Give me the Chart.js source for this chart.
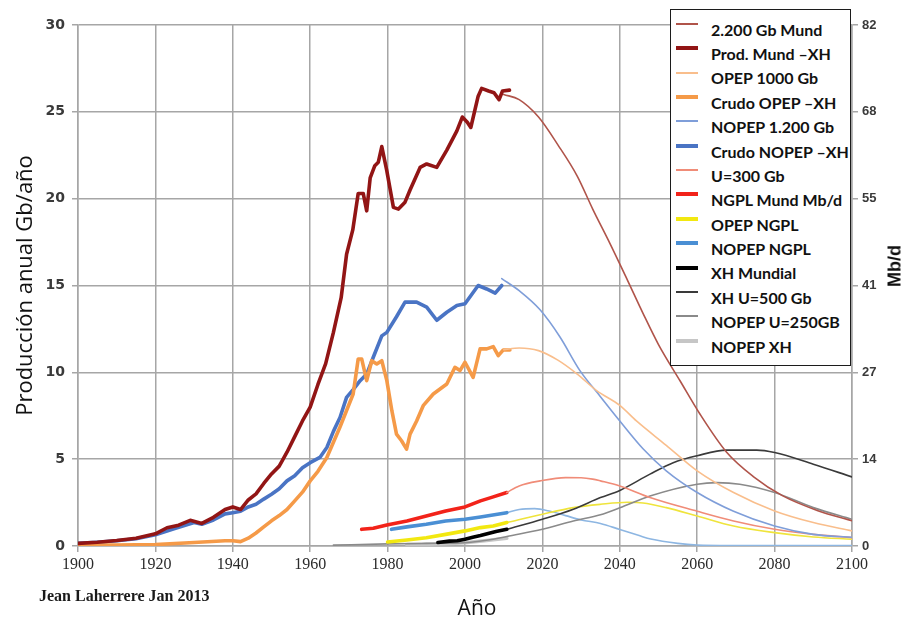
<!DOCTYPE html>
<html lang="es">
<head>
<meta charset="utf-8">
<title>Producción anual Gb/año</title>
<script src="https://cdn.jsdelivr.net/npm/chart.js@4.4.1/dist/chart.umd.min.js"></script>
<style>
    html, body { margin: 0; padding: 0; background: #fff; }
    #wrap { position: relative; width: 906px; height: 622px; overflow: hidden; }
    #c { position: absolute; left: 0; top: 0; }
    #legend {
        position: absolute; left: 670px; top: 9px; width: 179px; height: 355px;
        border: 1.5px solid #1c1c1c; background: #fff;
    }
    .row { position: absolute; left: 0; width: 100%; height: 24.4px; }
    .sw { position: absolute; left: 5px; width: 22px; }
    .tx {
        position: absolute; left: 40px; top: 0; line-height: 24.4px;
        font: bold 16px Lato, "Open Sans", sans-serif; color: #111; white-space: nowrap;
    }
    #xtitle {
        position: absolute; left: 477px; top: 607px; transform: translate(-50%, -50%);
        font: 21px "Open Sans", sans-serif; color: #111;
    }
    #credit {
        position: absolute; left: 39px; top: 596px; transform: translateY(-50%);
        font: bold 16px "Liberation Serif", serif; color: #1a1a1a;
    }
    #mbd {
        position: absolute; left: 895px; top: 266px; transform: translate(-50%, -50%) rotate(-90deg);
        font: bold 18px "Liberation Sans", sans-serif; color: #111;
    }
</style>
</head>
<body>
<div id="wrap">
    <canvas id="c" width="906" height="622"></canvas>
    <div id="legend"></div>
    <div id="xtitle">Año</div>
    <div id="credit">Jean Laherrere Jan 2013</div>
    <div id="mbd">Mb/d</div>
</div>
<script>
// ==========================================
// DATA (Gb/año)
// ==========================================

const yearLabels = ['1900', '1920', '1940', '1960', '1980', '2000', '2020', '2040', '2060', '2080', '2100'];
const gbLabels = ['0', '5', '10', '15', '20', '25', '30'];
const mbdLabels = ['0', '14', '27', '41', '55', '68', '82'];

// 2.200 Gb Mund
const mund2200Years = [2010, 2014, 2019, 2024, 2029, 2033, 2037.5, 2042, 2046, 2050, 2055.6, 2060.7, 2067.6, 2074.5, 2082, 2091, 2100];
const mund2200Vals = [26.0, 25.7, 24.7, 23.1, 21.3, 19.4, 17.4, 15.3, 13.4, 11.6, 9.5, 7.6, 5.4, 4.0, 2.9, 2.05, 1.45];

// Prod. Mund –XH
const prodMundYears = [1900, 1905, 1910, 1915, 1920, 1923, 1926, 1929, 1932, 1935, 1938, 1940, 1942, 1944, 1946, 1948, 1950, 1952, 1954, 1956, 1958, 1960, 1962, 1964, 1966, 1968, 1969.4, 1971, 1972.4, 1973.7, 1974.6, 1975.5, 1976.7, 1977.6, 1978.5, 1979.8, 1981.5, 1982.8, 1984.5, 1985.8, 1988.4, 1990.1, 1992.7, 1995.3, 1997.9, 1999.3, 2000.6, 2001.5, 2003.4, 2004.3, 2006.1, 2007.5, 2008.8, 2009.7, 2011.5];
const prodMundVals = [0.15, 0.22, 0.32, 0.45, 0.7, 1.05, 1.2, 1.48, 1.3, 1.65, 2.1, 2.25, 2.1, 2.65, 3.0, 3.6, 4.15, 4.6, 5.4, 6.3, 7.2, 8.0, 9.3, 10.5, 12.3, 14.3, 16.8, 18.2, 20.3, 20.3, 19.3, 21.2, 21.9, 22.1, 23.0, 21.6, 19.5, 19.4, 19.8, 20.5, 21.8, 22.0, 21.8, 22.8, 23.9, 24.7, 24.4, 24.1, 25.9, 26.35, 26.2, 26.1, 25.7, 26.2, 26.25];

// OPEP 1000 Gb
const opep1000Years = [2010, 2014, 2019, 2024, 2029, 2034, 2040, 2044.3, 2052, 2060, 2069.4, 2080, 2090, 2100];
const opep1000Vals = [11.3, 11.4, 11.25, 10.7, 9.9, 8.95, 8.1, 7.2, 5.8, 4.33, 3.08, 2.02, 1.35, 0.87];

// Crudo OPEP –XH
const crudoOpepYears = [1900, 1910, 1920, 1930, 1938, 1940, 1942, 1944, 1946, 1948, 1950, 1952, 1954, 1956, 1958, 1960, 1962, 1964.3, 1967.7, 1971.1, 1972.4, 1973.3, 1974.6, 1975.9, 1977.2, 1978.5, 1979.8, 1981.1, 1982.3, 1983.6, 1984.9, 1985.8, 1987.5, 1989.2, 1991.8, 1995.3, 1997.4, 1998.7, 2000, 2002.1, 2003.9, 2005.6, 2007.3, 2008.6, 2009.9, 2011.6];
const crudoOpepVals = [0.05, 0.05, 0.08, 0.2, 0.3, 0.3, 0.25, 0.45, 0.75, 1.1, 1.45, 1.75, 2.1, 2.6, 3.1, 3.75, 4.3, 5.1, 6.85, 8.75, 10.77, 10.77, 9.52, 10.67, 10.48, 10.67, 9.52, 7.79, 6.44, 6.06, 5.58, 6.44, 7.2, 8.08, 8.75, 9.33, 10.29, 10.1, 10.58, 9.71, 11.35, 11.35, 11.48, 10.96, 11.29, 11.29];

// NOPEP 1.200 Gb
const nopep1200Years = [2009.5, 2014, 2019.4, 2024.5, 2029.7, 2035, 2040, 2046, 2052, 2060, 2069.4, 2080, 2090, 2100];
const nopep1200Vals = [15.4, 14.7, 13.6, 12.05, 10.1, 8.6, 7.2, 5.6, 4.33, 3.08, 2.0, 1.15, 0.67, 0.5];

// Crudo NOPEP –XH
const crudoNopepYears = [1900, 1905, 1910, 1915, 1920, 1925, 1930, 1932, 1935, 1938, 1940, 1942, 1944, 1946, 1948, 1950, 1952, 1954, 1956, 1958, 1960, 1962.5, 1964.3, 1966, 1967.7, 1969.4, 1971.1, 1972.9, 1974.6, 1976.3, 1978.5, 1979.8, 1982.3, 1984.5, 1987.5, 1990.1, 1992.7, 1995.3, 1997.9, 2000, 2003.4, 2005.6, 2007.8, 2009.5];
const crudoNopepVals = [0.15, 0.22, 0.3, 0.42, 0.65, 1.0, 1.35, 1.25, 1.5, 1.85, 1.92, 2.0, 2.25, 2.4, 2.7, 2.98, 3.3, 3.75, 4.04, 4.5, 4.8, 5.1, 5.67, 6.6, 7.4, 8.56, 9.0, 9.52, 9.9, 10.87, 12.1, 12.3, 13.2, 14.04, 14.04, 13.75, 13.0, 13.46, 13.85, 13.95, 15.0, 14.8, 14.56, 15.0];

// U=300 Gb
const u300Years = [2010.8, 2014, 2019.4, 2026, 2030, 2033, 2035, 2040, 2047.8, 2060, 2069.4, 2080, 2090, 2100];
const u300Vals = [3.08, 3.46, 3.75, 3.94, 3.93, 3.85, 3.75, 3.46, 2.79, 2.0, 1.44, 0.96, 0.67, 0.48];

// NGPL Mund Mb/d
const ngplMundYears = [1973.3, 1976.3, 1979.8, 1985, 1990, 1995, 2000, 2004, 2007.3, 2010.8];
const ngplMundVals = [0.96, 1.02, 1.21, 1.44, 1.73, 2.02, 2.25, 2.6, 2.83, 3.08];

// OPEP NGPL (histórico + previsión)
const opepNgplYears = [1980, 1985, 1990, 1995, 2000, 2004, 2007.3, 2010.8];
const opepNgplVals = [0.23, 0.35, 0.48, 0.67, 0.87, 1.06, 1.15, 1.35];
const opepNgplFutYears = [2010.8, 2020, 2028, 2035, 2042, 2046, 2052, 2060, 2069.4, 2080, 2090, 2100];
const opepNgplFutVals = [1.35, 1.83, 2.21, 2.4, 2.52, 2.48, 2.21, 1.73, 1.15, 0.77, 0.52, 0.39];

// NOPEP NGPL (histórico + previsión)
const nopepNgplYears = [1981, 1985, 1990, 1995, 2000, 2004, 2010.8];
const nopepNgplVals = [0.96, 1.1, 1.25, 1.44, 1.54, 1.67, 1.92];
const nopepNgplFutYears = [2010.8, 2014, 2018, 2022, 2026, 2030, 2035, 2040, 2045, 2048, 2055, 2060, 2070, 2100];
const nopepNgplFutVals = [1.92, 2.1, 2.15, 2.0, 1.75, 1.5, 1.3, 0.95, 0.6, 0.4, 0.15, 0.06, 0.03, 0.02];

// XH Mundial / XH U=500 Gb
const xhMundialYears = [1993, 1996, 1998, 2000, 2002, 2004, 2006, 2008, 2010.8];
const xhMundialVals = [0.2, 0.28, 0.3, 0.39, 0.5, 0.6, 0.72, 0.83, 0.96];
const xh500Years = [2010.8, 2020, 2028, 2035, 2040, 2047.8, 2053.8, 2060, 2067.6, 2075.4, 2080, 2090, 2100];
const xh500Vals = [0.96, 1.54, 2.12, 2.79, 3.2, 4.14, 4.8, 5.2, 5.52, 5.52, 5.38, 4.71, 3.98];

// NOPEP U=250GB / NOPEP XH
const nopep250Years = [1966, 1980, 1990, 2000, 2007.3, 2010.8, 2020, 2028, 2035, 2040, 2047.8, 2060, 2065, 2071, 2080, 2090, 2100];
const nopep250Vals = [0.05, 0.12, 0.15, 0.19, 0.39, 0.55, 0.96, 1.44, 1.8, 2.2, 2.88, 3.56, 3.65, 3.56, 3.08, 2.21, 1.54];
const nopepXhYears = [1985, 1990, 1995, 2000, 2005, 2010.8];
const nopepXhVals = [0.08, 0.1, 0.13, 0.19, 0.3, 0.45];

// ==========================================
// CHART
// ==========================================

const THIN = 1.6;
const THICK = 3.6;
const GRID = '#a6a6a6';

function serie(label, xs, ys, color, width, smooth) {
    return {
        label: label,
        data: xs.map((x, i) => ({ x: x, y: ys[i] })),
        borderColor: color,
        backgroundColor: color,
        borderWidth: width,
        pointRadius: 0,
        fill: false,
        tension: 0,
        cubicInterpolationMode: smooth ? 'monotone' : 'default',
        borderCapStyle: 'round',
        borderJoinStyle: 'round'
    };
}

const datasets = [
    serie('2.200 Gb Mund', mund2200Years, mund2200Vals, '#b0544a', THIN, true),
    serie('Prod. Mund \u2013XH', prodMundYears, prodMundVals, '#921515', THICK, false),
    serie('OPEP 1000 Gb', opep1000Years, opep1000Vals, '#f9be8c', THIN, true),
    serie('Crudo OPEP \u2013XH', crudoOpepYears, crudoOpepVals, '#f59a48', THICK, false),
    serie('NOPEP 1.200 Gb', nopep1200Years, nopep1200Vals, '#7f9ed9', THIN, true),
    serie('Crudo NOPEP \u2013XH', crudoNopepYears, crudoNopepVals, '#4a74c4', THICK, false),
    serie('U=300 Gb', u300Years, u300Vals, '#f08c78', THIN, true),
    serie('NGPL Mund Mb/d', ngplMundYears, ngplMundVals, '#f2231a', THICK, false),
    serie('OPEP NGPL', opepNgplYears, opepNgplVals, '#f2e810', THICK, false),
    serie('NOPEP NGPL', nopepNgplYears, nopepNgplVals, '#4a8fd4', THICK, false),
    serie('XH Mundial', xhMundialYears, xhMundialVals, '#000000', THICK, false),
    serie('XH U=500 Gb', xh500Years, xh500Vals, '#3a3a3a', THIN, true),
    serie('NOPEP U=250GB', nopep250Years, nopep250Vals, '#8a8a8a', THIN, true),
    serie('NOPEP XH', nopepXhYears, nopepXhVals, '#c6c6c6', THICK, false),
    // continuations without their own legend entry
    serie('', opepNgplFutYears, opepNgplFutVals, '#efe43c', THIN, true),
    serie('', nopepNgplFutYears, nopepNgplFutVals, '#8db6e2', THIN, true)
];

const tickFont = { family: 'DejaVu Sans', size: 14, weight: 'bold' };

const chart = new Chart(document.getElementById('c'), {
    type: 'line',
    data: { datasets: datasets },
    options: {
        responsive: false,
        animation: false,
        layout: { padding: { top: 25, left: 0, right: 0, bottom: 0 } },
        plugins: {
            legend: { display: false },
            tooltip: { enabled: false }
        },
        scales: {
            x: {
                type: 'linear',
                min: 1900,
                max: 2100,
                ticks: {
                    stepSize: 20,
                    padding: 3,
                    maxRotation: 0,
                    color: '#2a2a2a',
                    font: { family: 'Liberation Serif', size: 16 },
                    callback: (v, i) => yearLabels[i]
                },
                grid: { color: GRID, lineWidth: 1.5, tickLength: 6 },
                border: { color: GRID, width: 1.5 },
                afterFit: s => { s.height = 76; }
            },
            y: {
                position: 'left',
                min: 0,
                max: 30,
                ticks: {
                    stepSize: 5,
                    padding: 7,
                    color: '#3a3a3a',
                    font: tickFont,
                    callback: (v, i) => gbLabels[i]
                },
                grid: { color: GRID, lineWidth: 1.5, tickLength: 6 },
                border: { color: GRID, width: 1.5 },
                title: {
                    display: true,
                    text: 'Producción anual Gb/año',
                    color: '#111',
                    font: { family: 'Open Sans', size: 22 },
                    padding: { top: 13, bottom: 0 }
                },
                afterFit: s => { s.width = 78; }
            },
            y2: {
                position: 'right',
                min: 0,
                max: 30,
                ticks: {
                    stepSize: 5,
                    padding: 4,
                    color: '#3a3a3a',
                    font: { family: 'Liberation Sans', size: 13, weight: 'bold' },
                    callback: (v, i) => mbdLabels[i]
                },
                grid: { drawOnChartArea: false, color: GRID, lineWidth: 1.5, tickLength: 6 },
                border: { color: GRID, width: 1.5 },
                afterFit: s => { s.width = 54; }
            }
        }
    }
});

// HTML legend built from the chart's own datasets
function buildLegend(chart) {
    const box = document.getElementById('legend');
    let row = 0;
    chart.data.datasets.forEach(ds => {
        if (!ds.label) return;
        const el = document.createElement('div');
        el.className = 'row';
        el.style.top = (9.6 + 24.38 * row) + 'px';

        const h = ds.borderWidth > 2 ? 4 : 2;
        const sw = document.createElement('div');
        sw.className = 'sw';
        sw.style.height = h + 'px';
        sw.style.top = (4.2 - h / 2) + 'px';
        sw.style.background = ds.borderColor;

        const tx = document.createElement('div');
        tx.className = 'tx';
        tx.textContent = ds.label;

        el.appendChild(sw);
        el.appendChild(tx);
        box.appendChild(el);
        row++;
    });
}

buildLegend(chart);
</script>
</body>
</html>
